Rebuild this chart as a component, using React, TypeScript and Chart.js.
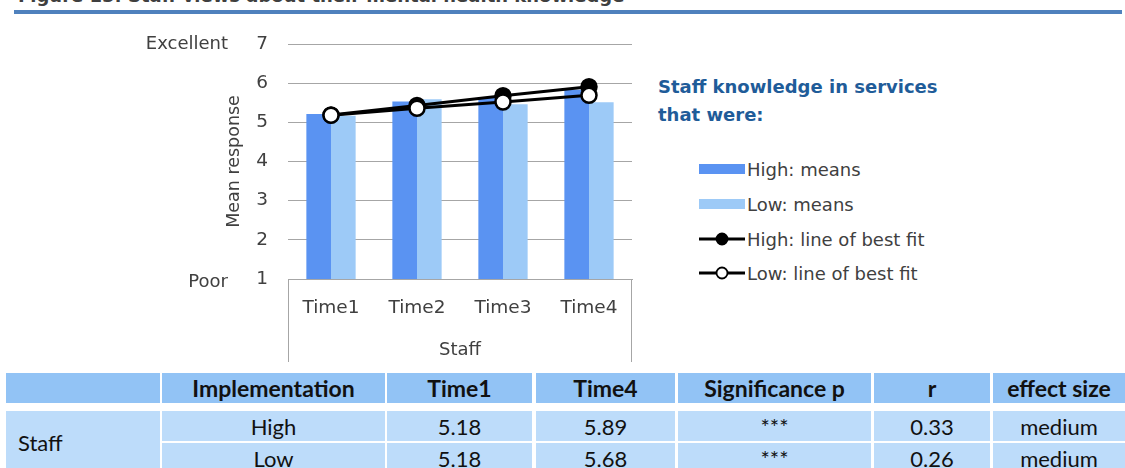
import React, { useEffect, useRef } from "react";
import { Chart, registerables } from "chart.js";

Chart.register(...registerables);

// ---------- data ----------
const figureTitle = "Figure 15: Staff views about their mental health knowledge";
const categories = ["Time1", "Time2", "Time3", "Time4"];
const groupLabel = "Staff";
const yAxisTitle = "Mean response";
const highMeans = [5.21, 5.53, 5.65, 5.83];
const lowMeans = [5.17, 5.59, 5.46, 5.51];
const highFit = [5.19, 5.43, 5.68, 5.91];
const lowFit = [5.18, 5.36, 5.52, 5.69];
const yTickMin = 1;
const yTickMax = 7;
const yEndValues = [1, 7];
const yEndTexts = ["Poor", "Excellent"];
const seriesNames = ["High: means", "Low: means", "High: line of best fit", "Low: line of best fit"];
const legendTitleLines = ["Staff knowledge in services", "that were:"];

const tableHeader = ["", "Implementation", "Time1", "Time4", "Significance p", "r", "effect size"];
const tableGroup = "Staff";
const tableImpl = ["High", "Low"];
const tableTime1 = ["5.18", "5.18"];
const tableTime4 = ["5.89", "5.68"];
const tableSig = ["***", "***"];
const tableR = ["0.33", "0.26"];
const tableEffect = ["medium", "medium"];

// ---------- style ----------
const FONT = "DejaVu Sans";
const TABLE_FONT = "Lato";
const TEXT = "#404040";
const GRID = "#A6A6A6";
const HIGH_BAR = "#5A93F2";
const LOW_BAR = "#9DCAF7";
const LEGEND_BLUE = "#1F5C99";
const HEAD_BG = "#92C3F5";
const ROW_BG = "#BDDCFA";

const colLefts = [6, 162, 387, 536, 678, 874, 993];
const colRights = [160, 385, 532, 675, 871, 990, 1125];

const framePlugin = {
  id: "frame",
  afterDraw(chart: any) {
    const { ctx, chartArea } = chart;
    ctx.save();
    ctx.strokeStyle = GRID;
    ctx.lineWidth = 1;
    ctx.beginPath();
    ctx.moveTo(Math.round(chartArea.left) + 0.5, chartArea.bottom);
    ctx.lineTo(Math.round(chartArea.left) + 0.5, chart.height);
    ctx.moveTo(Math.round(chartArea.right) - 0.5, chartArea.bottom);
    ctx.lineTo(Math.round(chartArea.right) - 0.5, chart.height);
    ctx.stroke();
    const ys = chart.scales.y;
    ctx.font = `18px "${FONT}"`;
    ctx.fillStyle = TEXT;
    ctx.textAlign = "right";
    ctx.textBaseline = "middle";
    yEndValues.forEach((v, i) => {
      ctx.fillText(yEndTexts[i], 228, ys.getPixelForValue(v) + (v === yTickMin ? 3 : 0));
    });
    ctx.restore();
  },
};

function ChartBox() {
  const ref = useRef<HTMLCanvasElement>(null);
  useEffect(() => {
    if (!ref.current) return;
    const chart = new Chart(ref.current, {
      type: "bar",
      data: {
        labels: categories,
        datasets: [
          {
            type: "line",
            label: seriesNames[3],
            data: lowFit,
            borderColor: "#000",
            borderWidth: 3,
            pointRadius: 7.5,
            pointBackgroundColor: "#fff",
            pointBorderColor: "#000",
            pointBorderWidth: 2.5,
            order: 0,
          } as any,
          {
            type: "line",
            label: seriesNames[2],
            data: highFit,
            borderColor: "#000",
            borderWidth: 3,
            pointRadius: 7.5,
            pointBackgroundColor: "#000",
            pointBorderColor: "#000",
            pointBorderWidth: 2.5,
            order: 1,
          } as any,
          {
            label: seriesNames[0],
            data: highMeans,
            backgroundColor: HIGH_BAR,
            categoryPercentage: 0.573,
            barPercentage: 1,
            order: 2,
          },
          {
            label: seriesNames[1],
            data: lowMeans,
            backgroundColor: LOW_BAR,
            categoryPercentage: 0.573,
            barPercentage: 1,
            order: 3,
          },
        ],
      },
      options: {
        responsive: false,
        animation: false,
        devicePixelRatio: 1,
        layout: { padding: { left: 215, top: 44, right: 18, bottom: 0 } },
        plugins: { legend: { display: false }, tooltip: { enabled: false } },
        scales: {
          x: {
            grid: { display: false, drawTicks: false },
            border: { display: true, color: GRID },
            ticks: { color: TEXT, font: { family: FONT, size: 18.5 }, padding: 18 },
            title: {
              display: true,
              text: groupLabel,
              color: TEXT,
              font: { family: FONT, size: 18 },
              padding: { top: 0, bottom: 1 },
            },
            afterFit: (s: any) => {
              s.height = 83;
            },
          },
          y: {
            min: yTickMin,
            max: yTickMax,
            grid: { color: GRID, drawTicks: false },
            border: { display: false },
            ticks: { stepSize: 1, color: TEXT, font: { family: FONT, size: 18.5 }, padding: 20 },
            title: {
              display: true,
              text: yAxisTitle,
              color: TEXT,
              font: { family: FONT, size: 17.5 },
              padding: { top: 9, bottom: 0 },
            },
            afterFit: (s: any) => {
              s.width = 73;
            },
          },
        },
      },
      plugins: [framePlugin],
    });
    return () => chart.destroy();
  }, []);
  return <canvas ref={ref} width={650} height={362} style={{ position: "absolute", left: 0, top: 0 }} />;
}

function LegendBox() {
  const rowsY = [169, 204, 239, 273];
  const icon = (i: number) => {
    if (i < 2)
      return <div style={{ width: 46, height: 10, background: i === 0 ? HIGH_BAR : LOW_BAR }} />;
    return (
      <svg width={46} height={16} style={{ display: "block" }}>
        <line x1={0} y1={8} x2={46} y2={8} stroke="#000" strokeWidth={3} />
        <circle cx={23} cy={8} r={5.5} fill={i === 2 ? "#000" : "#fff"} stroke="#000" strokeWidth={1.8} />
      </svg>
    );
  };
  return (
    <>
      <div
        style={{
          position: "absolute",
          left: 658,
          top: 73,
          font: `bold 18px "${FONT}"`,
          lineHeight: "28px",
          color: LEGEND_BLUE,
          whiteSpace: "nowrap",
        }}
      >
        {legendTitleLines.map((l) => (
          <div key={l}>{l}</div>
        ))}
      </div>
      {seriesNames.map((n, i) => (
        <div
          key={n}
          style={{
            position: "absolute",
            left: 699,
            top: rowsY[i] - 11,
            height: 22,
            display: "flex",
            alignItems: "center",
            font: `18px "${FONT}"`,
            color: TEXT,
            whiteSpace: "nowrap",
          }}
        >
          {icon(i)}
          <span style={{ marginLeft: 2 }}>{n}</span>
        </div>
      ))}
    </>
  );
}

function Cell(props: { c: number; top: number; h: number; bg: string; text: string; bold?: boolean; left?: boolean }) {
  const { c, top, h, bg, text, bold, left } = props;
  return (
    <div
      style={{
        position: "absolute",
        left: colLefts[c],
        width: colRights[c] - colLefts[c],
        top,
        height: h,
        background: bg,
        display: "flex",
        alignItems: "center",
        justifyContent: left ? "flex-start" : "center",
        paddingLeft: left ? 12 : 0,
        boxSizing: "border-box",
        font: `${bold ? "bold 23px" : "22px"} ${TABLE_FONT}`,
        color: "#111",
        whiteSpace: "nowrap",
      }}
    >
      {text}
    </div>
  );
}

function TableBox() {
  const cols = [tableImpl, tableTime1, tableTime4, tableSig, tableR, tableEffect];
  const rowTops = [411, 443];
  return (
    <>
      {tableHeader.map((h, c) => (
        <Cell key={"h" + c} c={c} top={373} h={30} bg={HEAD_BG} text={h} bold />
      ))}
      <Cell c={0} top={411} h={62} bg={ROW_BG} text={tableGroup} left />
      {rowTops.map((t, r) =>
        cols.map((col, ci) => <Cell key={r + "-" + ci} c={ci + 1} top={t} h={30} bg={ROW_BG} text={col[r]} />)
      )}
    </>
  );
}

export default function App() {
  return (
    <div
      style={{
        position: "fixed",
        left: 0,
        top: 0,
        width: 1125,
        height: 468,
        overflow: "hidden",
        background: "#fff",
        fontFamily: FONT,
      }}
    >
      <div
        style={{
          position: "absolute",
          left: 18,
          top: -13,
          font: `bold 18px "${FONT}"`,
          lineHeight: "18px",
          color: "#3F3F3F",
          whiteSpace: "nowrap",
        }}
      >
        {figureTitle}
      </div>
      <div style={{ position: "absolute", left: 14, top: 10, width: 1108, height: 4, background: "#4F81BD" }} />
      <ChartBox />
      <LegendBox />
      <TableBox />
    </div>
  );
}
